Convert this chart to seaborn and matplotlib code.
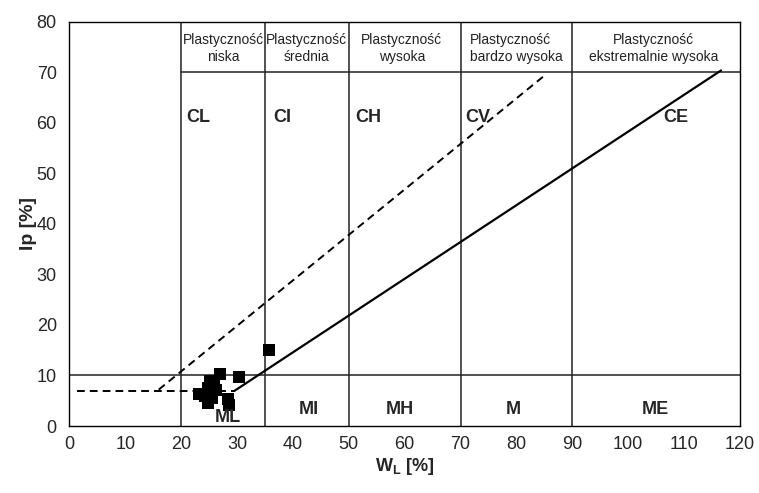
import numpy as np
import pandas as pd
import seaborn as sns
import matplotlib.pyplot as plt

# soil samples (liquid limit wL, plasticity index Ip)
wl = [23.2, 24.2, 24.9, 25.2, 25.8, 26.2, 24.9, 25.5, 27.0, 30.4, 28.4, 28.5, 35.8]
ip = [6.3, 6.0, 7.5, 9.0, 8.3, 7.2, 4.6, 5.5, 10.2, 9.8, 5.4, 4.2, 15.0]

# A-line (solid) and U-line (dashed)
a_line_x = [29.6, 116.6]
a_line_y = [7.0, 70.4]
u_flat_x = [1.3, 29.6]
u_flat_y = [7.0, 7.0]
u_line_x = [16.0, 84.8]
u_line_y = [7.2, 69.2]

# plasticity zone boundaries
zone_edges = [20, 35, 50, 70, 90]
headers = ['Plastyczność\nniska', 'Plastyczność\nśrednia', 'Plastyczność\nwysoka',
           'Plastyczność\nbardzo wysoka', 'Plastyczność\nekstremalnie wysoka']
header_x = [27.5, 42.5, 59.5, 71.7, 104.5]
header_ha = ['center', 'center', 'center', 'left', 'center']
c_labels = ['CL', 'CI', 'CH', 'CV', 'CE']
c_x = [23.1, 38.1, 53.5, 73.1, 108.5]
m_labels = ['ML', 'MI', 'MH', 'M', 'ME']
m_x = [28.4, 42.8, 59.2, 79.4, 104.8]
m_y = [1.6, 3.2, 3.2, 3.2, 3.2]

df = pd.DataFrame({'wL': wl, 'Ip': ip})

sns.set_style('white')
plt.rcParams['font.family'] = ['Liberation Sans', 'DejaVu Sans']
plt.rcParams['mathtext.fontset'] = 'custom'
plt.rcParams['mathtext.bf'] = 'Liberation Sans:bold'
plt.rcParams['mathtext.rm'] = 'Liberation Sans'

fig = plt.figure(figsize=(7.59, 4.93), dpi=100)
ax = fig.add_axes([0.0913, 0.1359, 0.8837, 0.8195])

grid_c = '#222222'
for x in zone_edges:
    ax.plot([x, x], [0, 80], color=grid_c, lw=1.1, zorder=1)
ax.plot([0, 120], [10, 10], color=grid_c, lw=1.1, zorder=1)
ax.plot([20, 120], [70, 70], color=grid_c, lw=1.1, zorder=1)

ax.plot(a_line_x, a_line_y, color='black', lw=1.6, zorder=2)
ax.plot(u_flat_x, u_flat_y, color='black', lw=1.4, dashes=(4, 2.6), zorder=2)
ax.plot(u_line_x, u_line_y, color='black', lw=1.4, dashes=(4, 2.6), zorder=2)

sns.scatterplot(data=df, x='wL', y='Ip', marker='s', s=68, color='black',
                edgecolor='black', linewidth=0, ax=ax, zorder=3)

for x, t, ha in zip(header_x, headers, header_ha):
    ax.text(x, 77.8, t, ha=ha, va='top', fontsize=10, color='#222222', linespacing=1.3)
for x, t in zip(c_x, c_labels):
    ax.text(x, 61, t, ha='center', va='center', fontsize=13, fontweight='bold')
for x, y, t in zip(m_x, m_y, m_labels):
    ax.text(x, y, t, ha='center', va='center', fontsize=13, fontweight='bold')

ax.set_xlim(0, 120)
ax.set_ylim(0, 80)
ax.set_xticks(range(0, 121, 10))
ax.set_yticks(range(0, 81, 10))
ax.tick_params(axis='x', direction='out', length=6, width=1, labelsize=13, pad=1)
ax.tick_params(axis='y', direction='inout', length=12, width=1, labelsize=13, pad=3)
for sp in ax.spines.values():
    sp.set_color('black')
    sp.set_linewidth(1)

ax.set_xlabel(r'$\mathbf{W}_\mathbf{L}$ [%]', fontsize=13, fontweight='bold', labelpad=2)
ax.set_ylabel('Ip [%]', fontsize=14, fontweight='bold', labelpad=0)

fig.savefig('out.png', dpi=100)
